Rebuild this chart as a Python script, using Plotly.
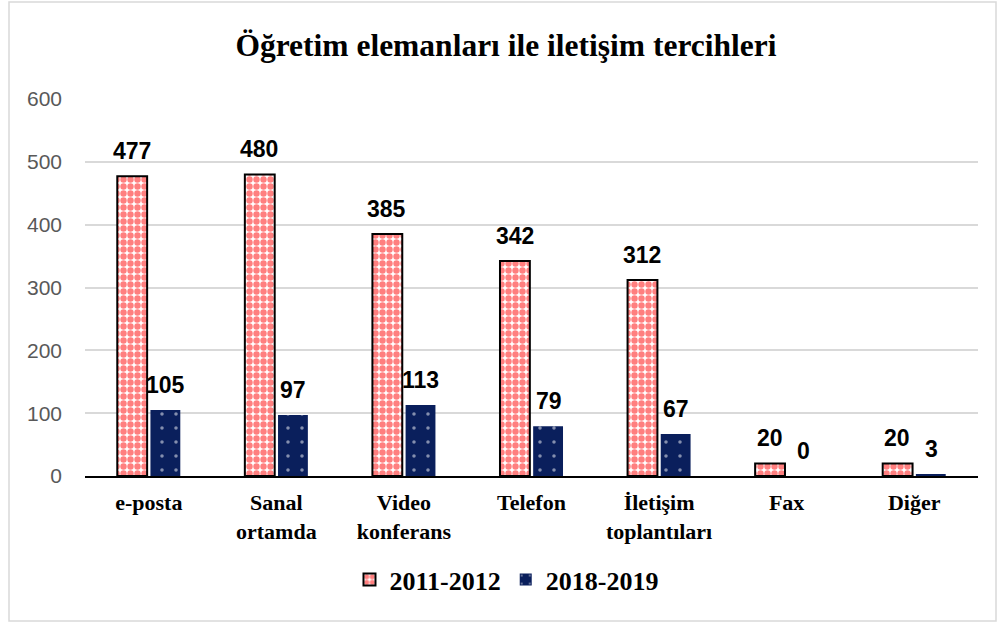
import plotly.graph_objects as go

categories = ["e-posta", "Sanal<br>ortamda", "Video<br>konferans", "Telefon",
              "İletişim<br>toplantıları", "Fax", "Diğer"]
series_2011 = [477, 480, 385, 342, 312, 20, 20]
series_2018 = [105, 97, 113, 79, 67, 0, 3]
y_ticks = [0, 100, 200, 300, 400, 500, 600]

label_font = dict(family="Liberation Sans, Arial", size=23, color="black")

fig = go.Figure()
fig.add_trace(go.Bar(
    x=categories, y=series_2011, name="<b>2011-2012</b>",
    marker=dict(color="white", line=dict(color="black", width=2),
                pattern=dict(shape=".", fgcolor="#ff0000", bgcolor="white",
                             fillmode="overlay", size=7, solidity=0.65)),
))
fig.add_trace(go.Bar(
    x=categories, y=series_2018, name="<b>2018-2019</b>",
    marker=dict(color="#0a1f5c", line=dict(width=0),
                pattern=dict(shape=".", fgcolor="white", bgcolor="#0a1f5c",
                             fillmode="overlay", size=14, solidity=0.05)),
))

# data labels anchored to each bar's value on the category axis
for series, shift in ((series_2011, -17), (series_2018, 17)):
    for cat, v in zip(categories, series):
        fig.add_annotation(x=cat, y=v, xref="x", yref="y", text=f"<b>{v}</b>",
                           showarrow=False, xanchor="center", yanchor="bottom",
                           xshift=shift, yshift=10, font=label_font)

fig.update_layout(
    width=998, height=625,
    margin=dict(l=85, r=20, t=99, b=149),
    paper_bgcolor="white", plot_bgcolor="white",
    barmode="group", bargap=0.48, bargroupgap=0.1,
    title=dict(text="<b>Öğretim elemanları ile iletişim tercihleri</b>",
               x=0.507, xanchor="center", y=0.928, yanchor="middle",
               font=dict(family="Liberation Serif, Times New Roman", size=31.5, color="black")),
    yaxis=dict(range=[0, 600], tickvals=y_ticks, showgrid=True, gridcolor="#d9d9d9",
               gridwidth=1.5, zeroline=False, showline=False, ticks="",
               tickfont=dict(family="Liberation Sans, Arial", size=21, color="#595959"),
               ticklabelstandoff=22),
    xaxis=dict(showline=True, linecolor="black", linewidth=1.5, ticks="",
               tickfont=dict(family="Liberation Serif, Times New Roman", size=22, color="black"),
               tickprefix="<b>", ticksuffix="</b>", ticklabelstandoff=6),
    legend=dict(orientation="h", x=0.472, xanchor="center", y=-0.275, yanchor="middle",
                font=dict(family="Liberation Serif, Times New Roman", size=26, color="black"),
                itemwidth=30, traceorder="normal"),
    showlegend=True,
)
fig.add_shape(type="rect", xref="paper", yref="paper",
              x0=(9 - 85) / 893, x1=(996 - 85) / 893,
              y0=(476 - 621) / 377, y1=(476 - 2) / 377,
              line=dict(color="#d9d9d9", width=1.5), layer="below")

fig.write_html("out.html", config={"displayModeBar": False},
               post_script="document.body.style.margin='0';")
